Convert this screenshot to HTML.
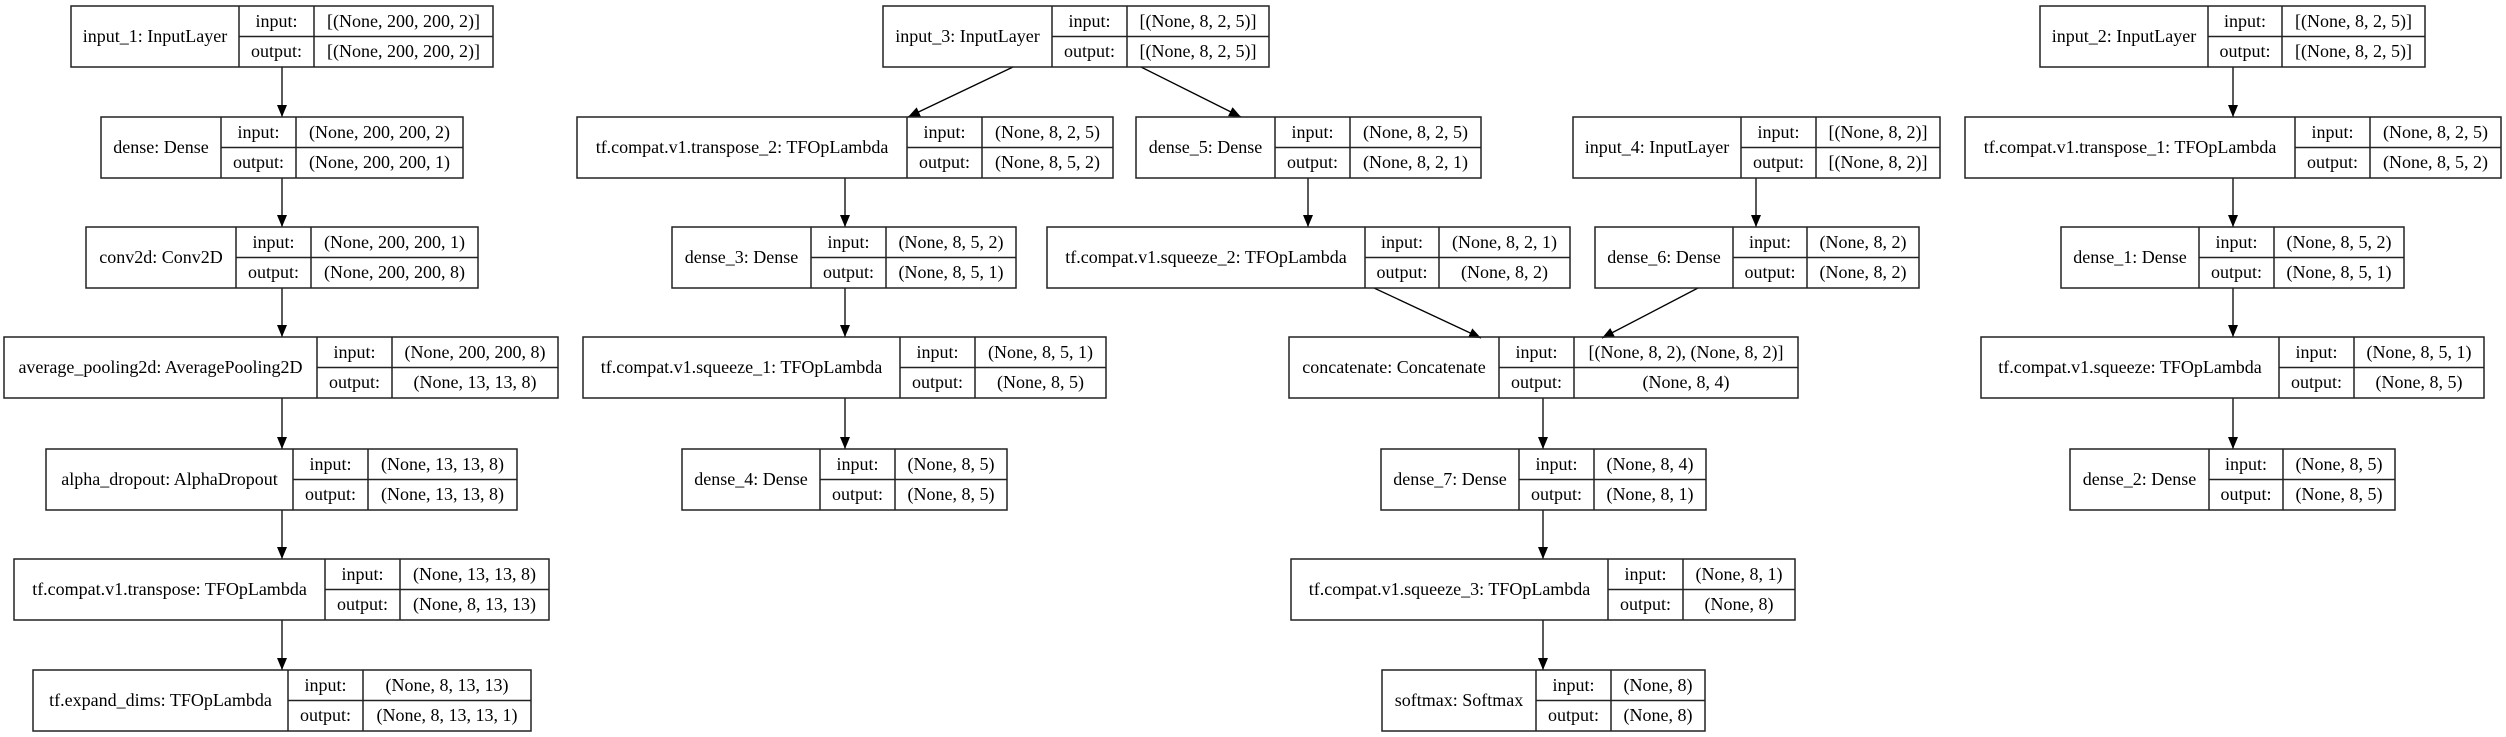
<!DOCTYPE html>
<html><head><meta charset="utf-8"><style>
html,body{margin:0;padding:0;background:#fff;}
svg{display:block;}
text{font-family:"Liberation Serif",serif;font-size:18px;text-anchor:middle;fill:#000;}
.b{fill:none;stroke:#222;stroke-width:1.5;}
.a{stroke:#000;stroke-width:1.3;fill:none;}
</style></head><body>
<svg width="2506" height="737" viewBox="0 0 2506 737" xmlns="http://www.w3.org/2000/svg">
<defs><marker id="m" markerUnits="userSpaceOnUse" markerWidth="12" markerHeight="12" refX="12" refY="5" orient="auto"><path d="M0,0 L12,5 L0,10 z" fill="#000"/></marker></defs>

<g class="a">
<path d="M282 67 V117" marker-end="url(#m)"/><path d="M282 178 V227" marker-end="url(#m)"/><path d="M282 288 V337" marker-end="url(#m)"/><path d="M282 398 V449" marker-end="url(#m)"/><path d="M282 510 V559" marker-end="url(#m)"/><path d="M282 620 V670" marker-end="url(#m)"/>
<path d="M845 178 V227" marker-end="url(#m)"/><path d="M845 288 V337" marker-end="url(#m)"/><path d="M845 398 V449" marker-end="url(#m)"/>
<path d="M1308 178 V227" marker-end="url(#m)"/><path d="M1756 178 V227" marker-end="url(#m)"/>
<path d="M1543 398 V449" marker-end="url(#m)"/><path d="M1543 510 V559" marker-end="url(#m)"/><path d="M1543 620 V670" marker-end="url(#m)"/>
<path d="M2233 67 V117" marker-end="url(#m)"/><path d="M2233 178 V227" marker-end="url(#m)"/><path d="M2233 288 V337" marker-end="url(#m)"/><path d="M2233 398 V449" marker-end="url(#m)"/>
<path d="M1013 67 L908 117" marker-end="url(#m)"/><path d="M1141 67 L1241 117" marker-end="url(#m)"/>
<path d="M1374 288 L1481 338" marker-end="url(#m)"/><path d="M1698 288 L1602 338" marker-end="url(#m)"/>
</g>

<g class="b">
<rect x="71" y="6" width="422" height="61"/><path d="M239 6V67M314 6V67M239 36.5H493"/>
<rect x="101" y="117" width="362" height="61"/><path d="M221 117V178M296 117V178M221 147.5H463"/>
<rect x="86" y="227" width="392" height="61"/><path d="M236 227V288M311 227V288M236 257.5H478"/>
<rect x="4" y="337" width="554" height="61"/><path d="M317 337V398M392 337V398M317 367.5H558"/>
<rect x="46" y="449" width="471" height="61"/><path d="M293 449V510M368 449V510M293 479.5H517"/>
<rect x="14" y="559" width="535" height="61"/><path d="M325 559V620M400 559V620M325 589.5H549"/>
<rect x="33" y="670" width="498" height="61"/><path d="M288 670V731M363 670V731M288 700.5H531"/>

<rect x="883" y="6" width="386" height="61"/><path d="M1052 6V67M1127 6V67M1052 36.5H1269"/>
<rect x="577" y="117" width="536" height="61"/><path d="M907 117V178M982 117V178M907 147.5H1113"/>
<rect x="672" y="227" width="344" height="61"/><path d="M811 227V288M886 227V288M811 257.5H1016"/>
<rect x="583" y="337" width="523" height="61"/><path d="M900 337V398M975 337V398M900 367.5H1106"/>
<rect x="682" y="449" width="325" height="61"/><path d="M820 449V510M895 449V510M820 479.5H1007"/>

<rect x="1136" y="117" width="345" height="61"/><path d="M1275 117V178M1350 117V178M1275 147.5H1481"/>
<rect x="1047" y="227" width="523" height="61"/><path d="M1365 227V288M1439 227V288M1365 257.5H1570"/>
<rect x="1573" y="117" width="367" height="61"/><path d="M1741 117V178M1816 117V178M1741 147.5H1940"/>
<rect x="1595" y="227" width="324" height="61"/><path d="M1733 227V288M1807 227V288M1733 257.5H1919"/>
<rect x="1289" y="337" width="509" height="61"/><path d="M1499 337V398M1574 337V398M1499 367.5H1798"/>
<rect x="1381" y="449" width="325" height="61"/><path d="M1519 449V510M1594 449V510M1519 479.5H1706"/>
<rect x="1291" y="559" width="504" height="61"/><path d="M1608 559V620M1683 559V620M1608 589.5H1795"/>
<rect x="1382" y="670" width="323" height="61"/><path d="M1536 670V731M1611 670V731M1536 700.5H1705"/>

<rect x="2040" y="6" width="385" height="61"/><path d="M2208 6V67M2282 6V67M2208 36.5H2425"/>
<rect x="1965" y="117" width="536" height="61"/><path d="M2295 117V178M2370 117V178M2295 147.5H2501"/>
<rect x="2061" y="227" width="343" height="61"/><path d="M2199 227V288M2274 227V288M2199 257.5H2404"/>
<rect x="1981" y="337" width="503" height="61"/><path d="M2279 337V398M2354 337V398M2279 367.5H2484"/>
<rect x="2070" y="449" width="325" height="61"/><path d="M2209 449V510M2283 449V510M2209 479.5H2395"/>
</g>

<g>
<text x="155" y="42">input_1: InputLayer</text><text x="276.5" y="27">input:</text><text x="276.5" y="57">output:</text><text x="403.5" y="27">[(None, 200, 200, 2)]</text><text x="403.5" y="57">[(None, 200, 200, 2)]</text>
<text x="161" y="153">dense: Dense</text><text x="258.5" y="138">input:</text><text x="258.5" y="168">output:</text><text x="379.5" y="138">(None, 200, 200, 2)</text><text x="379.5" y="168">(None, 200, 200, 1)</text>
<text x="161" y="263">conv2d: Conv2D</text><text x="273.5" y="248">input:</text><text x="273.5" y="278">output:</text><text x="394.5" y="248">(None, 200, 200, 1)</text><text x="394.5" y="278">(None, 200, 200, 8)</text>
<text x="160.5" y="373">average_pooling2d: AveragePooling2D</text><text x="354.5" y="358">input:</text><text x="354.5" y="388">output:</text><text x="475" y="358">(None, 200, 200, 8)</text><text x="475" y="388">(None, 13, 13, 8)</text>
<text x="169.5" y="485">alpha_dropout: AlphaDropout</text><text x="330.5" y="470">input:</text><text x="330.5" y="500">output:</text><text x="442.5" y="470">(None, 13, 13, 8)</text><text x="442.5" y="500">(None, 13, 13, 8)</text>
<text x="169.5" y="595">tf.compat.v1.transpose: TFOpLambda</text><text x="362.5" y="580">input:</text><text x="362.5" y="610">output:</text><text x="474.5" y="580">(None, 13, 13, 8)</text><text x="474.5" y="610">(None, 8, 13, 13)</text>
<text x="160.5" y="706">tf.expand_dims: TFOpLambda</text><text x="325.5" y="691">input:</text><text x="325.5" y="721">output:</text><text x="447" y="691">(None, 8, 13, 13)</text><text x="447" y="721">(None, 8, 13, 13, 1)</text>

<text x="967.5" y="42">input_3: InputLayer</text><text x="1089.5" y="27">input:</text><text x="1089.5" y="57">output:</text><text x="1198" y="27">[(None, 8, 2, 5)]</text><text x="1198" y="57">[(None, 8, 2, 5)]</text>
<text x="742" y="153">tf.compat.v1.transpose_2: TFOpLambda</text><text x="944.5" y="138">input:</text><text x="944.5" y="168">output:</text><text x="1047.5" y="138">(None, 8, 2, 5)</text><text x="1047.5" y="168">(None, 8, 5, 2)</text>
<text x="741.5" y="263">dense_3: Dense</text><text x="848.5" y="248">input:</text><text x="848.5" y="278">output:</text><text x="951" y="248">(None, 8, 5, 2)</text><text x="951" y="278">(None, 8, 5, 1)</text>
<text x="741.5" y="373">tf.compat.v1.squeeze_1: TFOpLambda</text><text x="937.5" y="358">input:</text><text x="937.5" y="388">output:</text><text x="1040.5" y="358">(None, 8, 5, 1)</text><text x="1040.5" y="388">(None, 8, 5)</text>
<text x="751" y="485">dense_4: Dense</text><text x="857.5" y="470">input:</text><text x="857.5" y="500">output:</text><text x="951" y="470">(None, 8, 5)</text><text x="951" y="500">(None, 8, 5)</text>

<text x="1205.5" y="153">dense_5: Dense</text><text x="1312.5" y="138">input:</text><text x="1312.5" y="168">output:</text><text x="1415.5" y="138">(None, 8, 2, 5)</text><text x="1415.5" y="168">(None, 8, 2, 1)</text>
<text x="1206" y="263">tf.compat.v1.squeeze_2: TFOpLambda</text><text x="1402" y="248">input:</text><text x="1402" y="278">output:</text><text x="1504.5" y="248">(None, 8, 2, 1)</text><text x="1504.5" y="278">(None, 8, 2)</text>
<text x="1657" y="153">input_4: InputLayer</text><text x="1778.5" y="138">input:</text><text x="1778.5" y="168">output:</text><text x="1878" y="138">[(None, 8, 2)]</text><text x="1878" y="168">[(None, 8, 2)]</text>
<text x="1664" y="263">dense_6: Dense</text><text x="1770" y="248">input:</text><text x="1770" y="278">output:</text><text x="1863" y="248">(None, 8, 2)</text><text x="1863" y="278">(None, 8, 2)</text>
<text x="1394" y="373">concatenate: Concatenate</text><text x="1536.5" y="358">input:</text><text x="1536.5" y="388">output:</text><text x="1686" y="358">[(None, 8, 2), (None, 8, 2)]</text><text x="1686" y="388">(None, 8, 4)</text>
<text x="1450" y="485">dense_7: Dense</text><text x="1556.5" y="470">input:</text><text x="1556.5" y="500">output:</text><text x="1650" y="470">(None, 8, 4)</text><text x="1650" y="500">(None, 8, 1)</text>
<text x="1449.5" y="595">tf.compat.v1.squeeze_3: TFOpLambda</text><text x="1645.5" y="580">input:</text><text x="1645.5" y="610">output:</text><text x="1739" y="580">(None, 8, 1)</text><text x="1739" y="610">(None, 8)</text>
<text x="1459" y="706">softmax: Softmax</text><text x="1573.5" y="691">input:</text><text x="1573.5" y="721">output:</text><text x="1658" y="691">(None, 8)</text><text x="1658" y="721">(None, 8)</text>

<text x="2124" y="42">input_2: InputLayer</text><text x="2245" y="27">input:</text><text x="2245" y="57">output:</text><text x="2353.5" y="27">[(None, 8, 2, 5)]</text><text x="2353.5" y="57">[(None, 8, 2, 5)]</text>
<text x="2130" y="153">tf.compat.v1.transpose_1: TFOpLambda</text><text x="2332.5" y="138">input:</text><text x="2332.5" y="168">output:</text><text x="2435.5" y="138">(None, 8, 2, 5)</text><text x="2435.5" y="168">(None, 8, 5, 2)</text>
<text x="2130" y="263">dense_1: Dense</text><text x="2236.5" y="248">input:</text><text x="2236.5" y="278">output:</text><text x="2339" y="248">(None, 8, 5, 2)</text><text x="2339" y="278">(None, 8, 5, 1)</text>
<text x="2130" y="373">tf.compat.v1.squeeze: TFOpLambda</text><text x="2316.5" y="358">input:</text><text x="2316.5" y="388">output:</text><text x="2419" y="358">(None, 8, 5, 1)</text><text x="2419" y="388">(None, 8, 5)</text>
<text x="2139.5" y="485">dense_2: Dense</text><text x="2246" y="470">input:</text><text x="2246" y="500">output:</text><text x="2339" y="470">(None, 8, 5)</text><text x="2339" y="500">(None, 8, 5)</text>
</g>
</svg>
</body></html>
